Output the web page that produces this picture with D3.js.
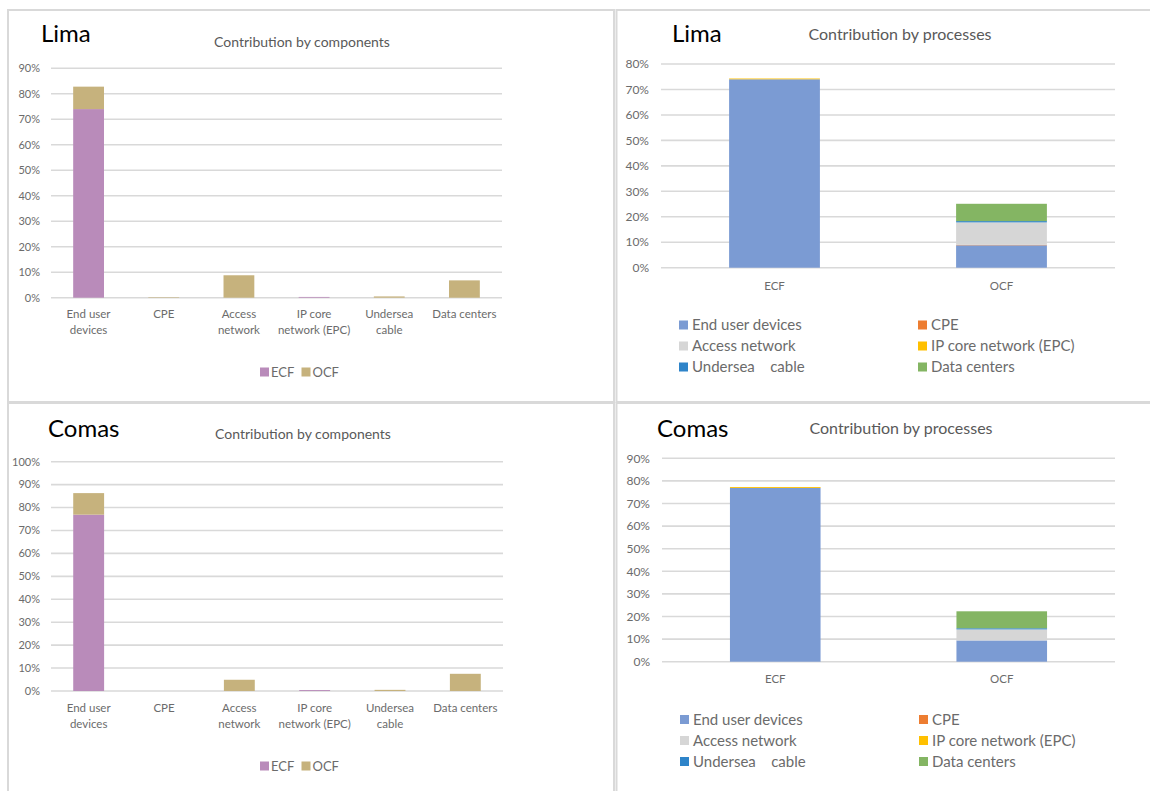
<!DOCTYPE html>
<html>
<head>
<meta charset="utf-8">
<script src="https://cdn.jsdelivr.net/npm/d3@7"></script>
<style>
  html, body { margin: 0; padding: 0; background: #fff; }
  svg { display: block; font-family: Lato, "Open Sans", sans-serif; }
</style>
</head>
<body>
<svg id="chart" width="1150" height="791"></svg>
<script>
// Carbon footprint shares (percent) by network component, split into
// embodied (ECF) and operational (OCF) footprint, for two districts.
const components = ["End user devices", "CPE", "Access network", "IP core network (EPC)", "Undersea cable", "Data centers"];
const componentTickLabels = [["End user", "devices"], ["CPE"], ["Access", "network"], ["IP core", "network (EPC)"], ["Undersea", "cable"], ["Data centers"]];
const footprintTypes = ["ECF", "OCF"];
const processLegendLabels = ["End user devices", "CPE", "Access network", "IP core network (EPC)", "Undersea    cable", "Data centers"];

const limaECF  = [74.0, 0,   0,   0.3, 0,   0];
const limaOCF  = [8.8,  0.2, 8.8, 0,   0.5, 6.8];
const comasECF = [76.9, 0,   0,   0.4, 0,   0];
const comasOCF = [9.4,  0,   4.9, 0,   0.5, 7.5];

const limaComponentTicks  = [0, 10, 20, 30, 40, 50, 60, 70, 80, 90];
const limaProcessTicks    = [0, 10, 20, 30, 40, 50, 60, 70, 80];
const comasComponentTicks = [0, 10, 20, 30, 40, 50, 60, 70, 80, 90, 100];
const comasProcessTicks   = [0, 10, 20, 30, 40, 50, 60, 70, 80, 90];

const typeColors = { ECF: "#b98bba", OCF: "#c6b27d" };
const componentColors = ["#7b9bd3", "#ed7d31", "#d6d6d6", "#ffc000", "#2e84c9", "#84b563"];

const svg = d3.select("#chart");
const gridColor = "#d9d9d9";
const textGray = "#6b6b6b";
const pct = d => d + "%";

// panel frames
const frames = [
  [8, 10, 606, 392], [616.5, 10, 540, 392],
  [8, 403, 606, 400], [616.5, 403, 540, 400]
];
svg.selectAll("rect.frame").data(frames).join("rect")
  .attr("class", "frame")
  .attr("x", d => d[0]).attr("y", d => d[1])
  .attr("width", d => d[2]).attr("height", d => d[3])
  .attr("fill", "none").attr("stroke", gridColor).attr("stroke-width", 2);

function yAxisGrid(g, y, ticks, x0, x1, labelX, fontSize) {
  g.append("g").selectAll("line").data(ticks).join("line")
    .attr("x1", x0).attr("x2", x1)
    .attr("y1", d => y(d)).attr("y2", d => y(d))
    .attr("stroke", gridColor).attr("stroke-width", 1.6);
  g.append("g").selectAll("text").data(ticks).join("text")
    .attr("x", labelX).attr("y", d => y(d)).attr("dy", "0.35em")
    .attr("text-anchor", "end").attr("fill", textGray)
    .style("font-size", fontSize + "px").text(pct);
}

function headings(city, cityX, cityY, title, titleX, titleY, titleSize) {
  svg.append("text").attr("x", cityX).attr("y", cityY)
    .attr("fill", "#000").style("font-size", "24px").text(city);
  svg.append("text").attr("x", titleX).attr("y", titleY)
    .attr("text-anchor", "middle").attr("fill", "#595959")
    .style("font-size", titleSize + "px").text(title);
}

// Contribution by components: one stacked ECF/OCF bar per component
function componentChart(p) {
  const rows = components.map((c, i) => ({ key: c, ECF: p.ecf[i], OCF: p.ocf[i] }));
  const x = d3.scaleBand().domain(components).range([p.x0, p.x1]).paddingInner(0.59).paddingOuter(0.295);
  const y = d3.scaleLinear().domain([0, d3.max(p.ticks)]).range([p.yBase, p.yTop]);
  const g = svg.append("g");
  yAxisGrid(g, y, p.ticks, p.x0, p.x1, p.labelX, 11);
  const stack = d3.stack().keys(footprintTypes)(rows);
  g.append("g").selectAll("g").data(stack).join("g")
    .attr("fill", s => typeColors[s.key])
    .selectAll("rect").data(s => s).join("rect")
      .attr("x", d => x(d.data.key)).attr("width", x.bandwidth())
      .attr("y", d => y(d[1])).attr("height", d => y(d[0]) - y(d[1]));
  // category labels
  const lab = g.append("g").selectAll("text").data(components).join("text")
    .attr("x", d => x(d) + x.bandwidth() / 2).attr("y", p.xLabelY)
    .attr("text-anchor", "middle").attr("fill", textGray).style("font-size", "11.5px");
  lab.selectAll("tspan").data((d, i) => componentTickLabels[i]).join("tspan")
    .attr("x", function () { return d3.select(this.parentNode).attr("x"); })
    .attr("dy", (d, i) => i === 0 ? 0 : 16).text(d => d);
  // legend
  const leg = g.append("g").selectAll("g").data(footprintTypes).join("g")
    .attr("transform", (d, i) => `translate(${p.legendX + i * 41.5},${p.legendY})`);
  leg.append("rect").attr("x", 0).attr("y", -4.5).attr("width", 9).attr("height", 9)
    .attr("fill", d => typeColors[d]);
  leg.append("text").attr("x", 11).attr("y", 0).attr("dy", "0.36em")
    .attr("fill", textGray).style("font-size", "13px").text(d => d);
  headings(p.city, p.cityX, p.cityY, "Contribution by components", p.titleX, p.titleY, 14);
}

// Contribution by processes: ECF and OCF bars stacked by component
function processChart(p) {
  const rows = [
    Object.assign({ key: "ECF" }, Object.fromEntries(components.map((c, i) => [c, p.ecf[i]]))),
    Object.assign({ key: "OCF" }, Object.fromEntries(components.map((c, i) => [c, p.ocf[i]])))
  ];
  const x = d3.scaleBand().domain(footprintTypes).range([p.x0, p.x1]).paddingInner(0.6).paddingOuter(0.3);
  const y = d3.scaleLinear().domain([0, d3.max(p.ticks)]).range([p.yBase, p.yTop]);
  const color = d3.scaleOrdinal().domain(components).range(componentColors);
  const g = svg.append("g");
  yAxisGrid(g, y, p.ticks, p.x0, p.x1, p.labelX, 12);
  const stack = d3.stack().keys(components)(rows);
  g.append("g").selectAll("g").data(stack).join("g")
    .attr("fill", s => color(s.key))
    .selectAll("rect").data(s => s).join("rect")
      .attr("x", d => x(d.data.key)).attr("width", x.bandwidth())
      .attr("y", d => y(d[1])).attr("height", d => y(d[0]) - y(d[1]));
  g.append("g").selectAll("text").data(footprintTypes).join("text")
    .attr("x", d => x(d) + x.bandwidth() / 2).attr("y", p.xLabelY)
    .attr("text-anchor", "middle").attr("fill", textGray).style("font-size", "11.5px").text(d => d);
  // legend: two columns, three rows
  const leg = g.append("g").selectAll("g").data(components).join("g")
    .attr("transform", (d, i) => `translate(${p.legendX[i % 2]},${p.legendY + Math.floor(i / 2) * 21})`);
  leg.append("rect").attr("x", 0).attr("y", -4.5).attr("width", 9).attr("height", 9)
    .attr("fill", d => color(d));
  leg.append("text").attr("x", 13).attr("y", 0).attr("dy", "0.36em")
    .attr("fill", textGray).style("font-size", "15px").style("white-space", "pre")
    .text((d, i) => processLegendLabels[i]);
  headings(p.city, p.cityX, p.cityY, "Contribution by processes", p.titleX, p.titleY, 16);
}

componentChart({
  city: "Lima", ecf: limaECF, ocf: limaOCF, ticks: limaComponentTicks,
  x0: 51, x1: 502, yBase: 297.7, yTop: 68.3, labelX: 40,
  xLabelY: 318, legendX: 260, legendY: 372,
  cityX: 41, cityY: 42, titleX: 302, titleY: 47
});
processChart({
  city: "Lima", ecf: limaECF, ocf: limaOCF, ticks: limaProcessTicks,
  x0: 661, x1: 1115, yBase: 267.7, yTop: 64, labelX: 649,
  xLabelY: 290, legendX: [679, 918], legendY: 325,
  cityX: 672, cityY: 42, titleX: 900, titleY: 40
});
componentChart({
  city: "Comas", ecf: comasECF, ocf: comasOCF, ticks: comasComponentTicks,
  x0: 51, x1: 503, yBase: 691, yTop: 461.7, labelX: 40,
  xLabelY: 712, legendX: 260, legendY: 766,
  cityX: 48, cityY: 437, titleX: 303, titleY: 439
});
processChart({
  city: "Comas", ecf: comasECF, ocf: comasOCF, ticks: comasProcessTicks,
  x0: 662, x1: 1115, yBase: 661.7, yTop: 458.3, labelX: 650,
  xLabelY: 683, legendX: [680, 919], legendY: 719.5,
  cityX: 657, cityY: 437, titleX: 901, titleY: 434
});
</script>
</body>
</html>
